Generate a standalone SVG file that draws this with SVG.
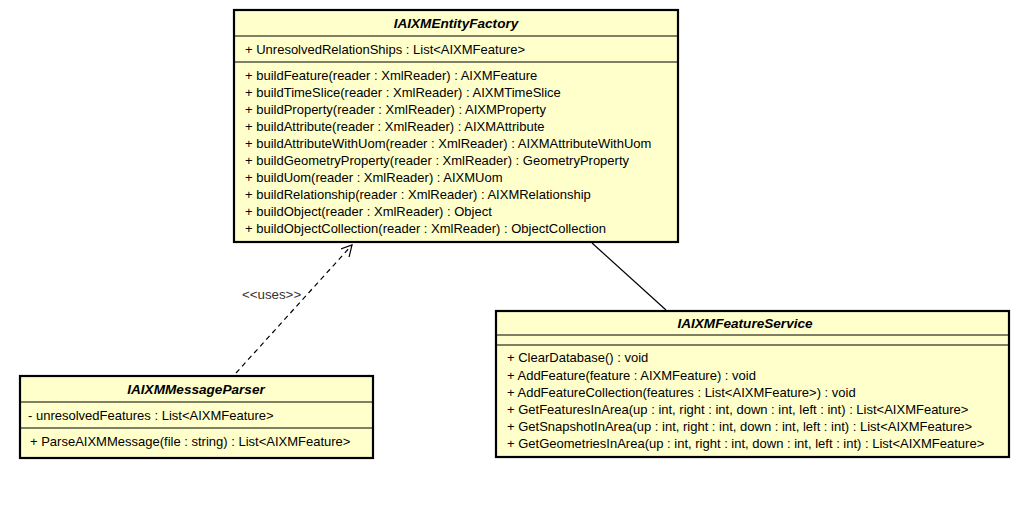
<svg xmlns="http://www.w3.org/2000/svg" width="1024" height="517" viewBox="0 0 1024 517">
<style>
.box{fill:#ffffcc;stroke:#000;stroke-width:2.2}
.sep{stroke:#000;stroke-width:1.2}
.t{font-family:"Liberation Sans",Arial,sans-serif;font-size:13px;fill:#000}
.h{font-family:"Liberation Sans",Arial,sans-serif;font-size:13.6px;font-weight:bold;font-style:italic;fill:#000;text-anchor:middle}
.lbl{font-family:"Liberation Sans",Arial,sans-serif;font-size:13.3px;fill:#333}
</style>
<defs>
<marker id="open" viewBox="0 0 12 12" refX="11" refY="6" markerWidth="12" markerHeight="12" markerUnits="userSpaceOnUse" orient="auto">
<path d="M0,0 L11,6 L0,12" fill="none" stroke="#000" stroke-width="1.2"/>
</marker>
</defs>
<rect width="1024" height="517" fill="#fff"/>
<g id="connectors">
<line x1="236" y1="373" x2="352" y2="245" stroke="#000" stroke-width="1.2" stroke-dasharray="5,4" marker-end="url(#open)"/>
<text class="lbl" x="242" y="299">&lt;&lt;uses&gt;&gt;</text>
<line x1="592" y1="243" x2="666" y2="310" stroke="#000" stroke-width="1.2"/>
</g>
<g id="IAIXMEntityFactory">
<rect class="box" x="234" y="10" width="444" height="232"/>
<line class="sep" x1="234" y1="36" x2="678" y2="36"/>
<line class="sep" x1="234" y1="62" x2="678" y2="62"/>
<text class="h" x="456" y="28">IAIXMEntityFactory</text>
<text class="t" x="245" y="54">+ UnresolvedRelationShips : List&lt;AIXMFeature&gt;</text>
<text class="t" x="245" y="80">+ buildFeature(reader : XmlReader) : AIXMFeature</text>
<text class="t" x="245" y="97">+ buildTimeSlice(reader : XmlReader) : AIXMTimeSlice</text>
<text class="t" x="245" y="114">+ buildProperty(reader : XmlReader) : AIXMProperty</text>
<text class="t" x="245" y="131">+ buildAttribute(reader : XmlReader) : AIXMAttribute</text>
<text class="t" x="245" y="148">+ buildAttributeWithUom(reader : XmlReader) : AIXMAttributeWithUom</text>
<text class="t" x="245" y="165">+ buildGeometryProperty(reader : XmlReader) : GeometryProperty</text>
<text class="t" x="245" y="182">+ buildUom(reader : XmlReader) : AIXMUom</text>
<text class="t" x="245" y="199">+ buildRelationship(reader : XmlReader) : AIXMRelationship</text>
<text class="t" x="245" y="216">+ buildObject(reader : XmlReader) : Object</text>
<text class="t" x="245" y="233">+ buildObjectCollection(reader : XmlReader) : ObjectCollection</text>
</g>
<g id="IAIXMMessageParser">
<rect class="box" x="20" y="376" width="353" height="82"/>
<line class="sep" x1="20" y1="402" x2="373" y2="402"/>
<line class="sep" x1="20" y1="428" x2="373" y2="428"/>
<text class="h" x="196" y="394">IAIXMMessageParser</text>
<text class="t" x="28" y="420">- unresolvedFeatures : List&lt;AIXMFeature&gt;</text>
<text class="t" x="30" y="446">+ ParseAIXMMessage(file : string) : List&lt;AIXMFeature&gt;</text>
</g>
<g id="IAIXMFeatureService">
<rect class="box" x="496" y="311" width="513" height="146"/>
<line class="sep" x1="496" y1="335" x2="1009" y2="335"/>
<line class="sep" x1="496" y1="345" x2="1009" y2="345"/>
<text class="h" x="745" y="328">IAIXMFeatureService</text>
<text class="t" x="507" y="362">+ ClearDatabase() : void</text>
<text class="t" x="507" y="380">+ AddFeature(feature : AIXMFeature) : void</text>
<text class="t" x="507" y="397">+ AddFeatureCollection(features : List&lt;AIXMFeature&gt;) : void</text>
<text class="t" x="507" y="414">+ GetFeaturesInArea(up : int, right : int, down : int, left : int) : List&lt;AIXMFeature&gt;</text>
<text class="t" x="507" y="431">+ GetSnapshotInArea(up : int, right : int, down : int, left : int) : List&lt;AIXMFeature&gt;</text>
<text class="t" x="507" y="448">+ GetGeometriesInArea(up : int, right : int, down : int, left : int) : List&lt;AIXMFeature&gt;</text>
</g>
</svg>
